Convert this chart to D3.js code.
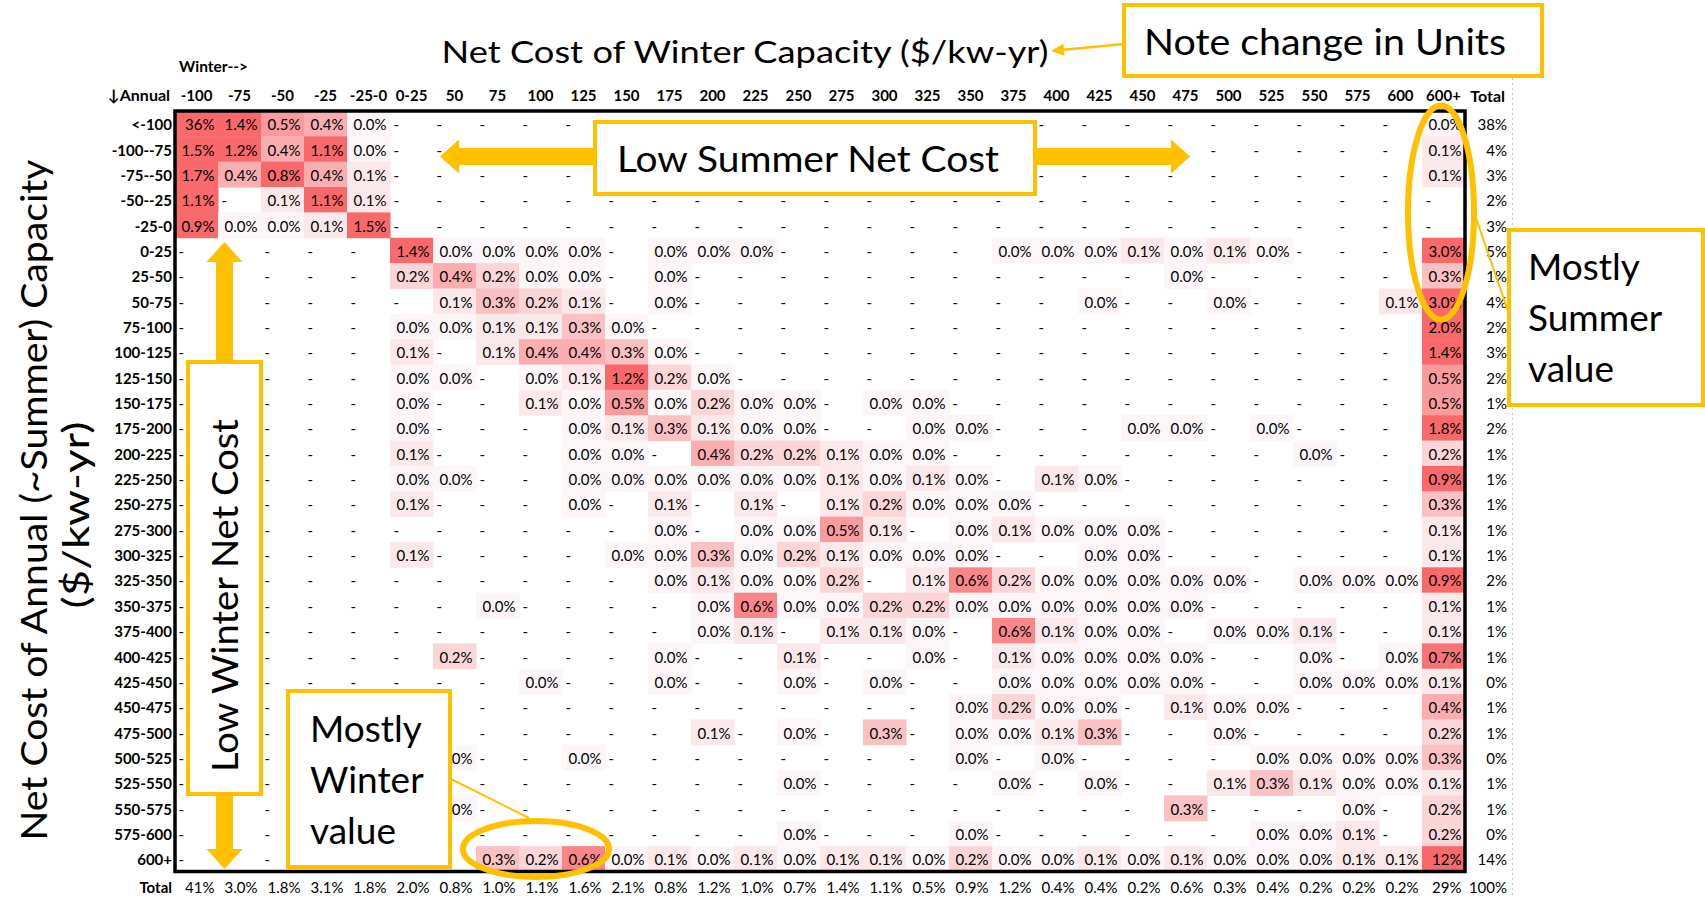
<!DOCTYPE html>
<html>
<head>
<meta charset="utf-8">
<script src="https://cdn.jsdelivr.net/npm/d3@7"></script>
<style>
  body { margin: 0; background: #fff; }
  text { font-family: Lato, "DejaVu Sans", sans-serif; fill: #000; }
</style>
</head>
<body>
<svg id="chart" width="1705" height="898"></svg>
<script>
// ---- data ----
const _ = null; // "-" cell, no hours in that bin

const winterBins = ["-100", "-75", "-50", "-25", "-25-0", "0-25", "50", "75", "100", "125", "150", "175", "200", "225", "250",
  "275", "300", "325", "350", "375", "400", "425", "450", "475", "500", "525", "550", "575", "600", "600+"];

const annualBins = ["<-100", "-100--75", "-75--50", "-50--25", "-25-0", "0-25", "25-50", "50-75", "75-100", "100-125",
  "125-150", "150-175", "175-200", "200-225", "225-250", "250-275", "275-300", "300-325", "325-350", "350-375",
  "375-400", "400-425", "425-450", "450-475", "475-500", "500-525", "525-550", "550-575", "575-600", "600+"];

// share (%) per annual bin (row) x winter bin (column), columns grouped by 5
const share = [
  [36, 1.4, 0.5, 0.4, 0.0,  _, _, _, _, _,  _, _, _, _, _,  _, _, _, _, _,  _, _, _, _, _,  _, _, _, _, 0.0],
  [1.5, 1.2, 0.4, 1.1, 0.0,  _, _, _, _, _,  _, _, _, _, _,  _, _, _, _, _,  _, _, _, _, _,  _, _, _, _, 0.1],
  [1.7, 0.4, 0.8, 0.4, 0.1,  _, _, _, _, _,  _, _, _, _, _,  _, _, _, _, _,  _, _, _, _, _,  _, _, _, _, 0.1],
  [1.1, _, 0.1, 1.1, 0.1,  _, _, _, _, _,  _, _, _, _, _,  _, _, _, _, _,  _, _, _, _, _,  _, _, _, _, _],
  [0.9, 0.0, 0.0, 0.1, 1.5,  _, _, _, _, _,  _, _, _, _, _,  _, _, _, _, _,  _, _, _, _, _,  _, _, _, _, _],
  [_, _, _, _, _,  1.4, 0.0, 0.0, 0.0, 0.0,  _, 0.0, 0.0, 0.0, _,  _, _, _, _, 0.0,  0.0, 0.0, 0.1, 0.0, 0.1,  0.0, _, _, _, 3.0],
  [_, _, _, _, _,  0.2, 0.4, 0.2, 0.0, 0.0,  _, 0.0, _, _, _,  _, _, _, _, _,  _, _, _, 0.0, _,  _, _, _, _, 0.3],
  [_, _, _, _, _,  _, 0.1, 0.3, 0.2, 0.1,  _, 0.0, _, _, _,  _, _, _, _, _,  _, 0.0, _, _, 0.0,  _, _, _, 0.1, 3.0],
  [_, _, _, _, _,  0.0, 0.0, 0.1, 0.1, 0.3,  0.0, _, _, _, _,  _, _, _, _, _,  _, _, _, _, _,  _, _, _, _, 2.0],
  [_, _, _, _, _,  0.1, _, 0.1, 0.4, 0.4,  0.3, 0.0, _, _, _,  _, _, _, _, _,  _, _, _, _, _,  _, _, _, _, 1.4],
  [_, _, _, _, _,  0.0, 0.0, _, 0.0, 0.1,  1.2, 0.2, 0.0, _, _,  _, _, _, _, _,  _, _, _, _, _,  _, _, _, _, 0.5],
  [_, _, _, _, _,  0.0, _, _, 0.1, 0.0,  0.5, 0.0, 0.2, 0.0, 0.0,  _, 0.0, 0.0, _, _,  _, _, _, _, _,  _, _, _, _, 0.5],
  [_, _, _, _, _,  0.0, _, _, _, 0.0,  0.1, 0.3, 0.1, 0.0, 0.0,  _, _, 0.0, 0.0, _,  _, _, 0.0, 0.0, _,  0.0, _, _, _, 1.8],
  [_, _, _, _, _,  0.1, _, _, _, 0.0,  0.0, _, 0.4, 0.2, 0.2,  0.1, 0.0, 0.0, _, _,  _, _, _, _, _,  _, 0.0, _, _, 0.2],
  [_, _, _, _, _,  0.0, 0.0, _, _, 0.0,  0.0, 0.0, 0.0, 0.0, 0.0,  0.1, 0.0, 0.1, 0.0, _,  0.1, 0.0, _, _, _,  _, _, _, _, 0.9],
  [_, _, _, _, _,  0.1, _, _, _, 0.0,  _, 0.1, _, 0.1, _,  0.1, 0.2, 0.0, 0.0, 0.0,  _, _, _, _, _,  _, _, _, _, 0.3],
  [_, _, _, _, _,  _, _, _, _, _,  _, 0.0, _, 0.0, 0.0,  0.5, 0.1, _, 0.0, 0.1,  0.0, 0.0, 0.0, _, _,  _, _, _, _, 0.1],
  [_, _, _, _, _,  0.1, _, _, _, _,  0.0, 0.0, 0.3, 0.0, 0.2,  0.1, 0.0, 0.0, 0.0, _,  _, 0.0, 0.0, _, _,  _, _, _, _, 0.1],
  [_, _, _, _, _,  _, _, _, _, _,  _, 0.0, 0.1, 0.0, 0.0,  0.2, _, 0.1, 0.6, 0.2,  0.0, 0.0, 0.0, 0.0, 0.0,  _, 0.0, 0.0, 0.0, 0.9],
  [_, _, _, _, _,  _, _, 0.0, _, _,  _, _, 0.0, 0.6, 0.0,  0.0, 0.2, 0.2, 0.0, 0.0,  0.0, 0.0, 0.0, 0.0, _,  _, _, _, _, 0.1],
  [_, _, _, _, _,  _, _, _, _, _,  _, _, 0.0, 0.1, _,  0.1, 0.1, 0.0, _, 0.6,  0.1, 0.0, 0.0, _, 0.0,  0.0, 0.1, _, _, 0.1],
  [_, _, _, _, _,  _, 0.2, _, _, _,  _, 0.0, _, _, 0.1,  _, _, 0.0, _, 0.1,  0.0, 0.0, 0.0, 0.0, _,  _, 0.0, _, 0.0, 0.7],
  [_, _, _, _, _,  _, _, _, 0.0, _,  _, 0.0, _, _, 0.0,  _, 0.0, _, _, 0.0,  0.0, 0.0, 0.0, 0.0, _,  _, 0.0, 0.0, 0.0, 0.1],
  [_, _, _, _, _,  _, _, _, _, _,  _, _, _, _, _,  _, _, _, 0.0, 0.2,  0.0, 0.0, _, 0.1, 0.0,  0.0, _, _, _, 0.4],
  [_, _, _, _, _,  _, _, _, _, _,  _, _, 0.1, _, 0.0,  _, 0.3, _, 0.0, 0.0,  0.1, 0.3, _, _, 0.0,  _, _, _, _, 0.2],
  [_, _, _, _, _,  _, 0.0, _, _, 0.0,  _, _, _, _, _,  _, _, _, 0.0, _,  0.0, _, _, _, _,  0.0, 0.0, 0.0, 0.0, 0.3],
  [_, _, _, _, _,  _, _, _, _, _,  _, _, _, _, 0.0,  _, _, _, _, 0.0,  _, 0.0, _, _, 0.1,  0.3, 0.1, 0.0, 0.0, 0.1],
  [_, _, _, _, _,  _, 0.0, _, _, _,  _, _, _, _, _,  _, _, _, _, _,  _, _, _, 0.3, _,  _, _, 0.0, _, 0.2],
  [_, _, _, _, _,  _, _, _, _, _,  _, _, _, _, 0.0,  _, _, _, 0.0, _,  _, _, _, _, _,  0.0, 0.0, 0.1, _, 0.2],
  [_, _, _, _, _,  _, _, 0.3, 0.2, 0.6,  0.0, 0.1, 0.0, 0.1, 0.0,  0.1, 0.1, 0.0, 0.2, 0.0,  0.0, 0.1, 0.0, 0.1, 0.0,  0.0, 0.0, 0.1, 0.1, 12]
];

const rowTotals = [38, 4, 3, 2, 3, 5, 1, 4, 2, 3, 2, 1, 2, 1, 1, 1, 1, 1, 2, 1, 1, 1, 0, 1, 1, 0, 1, 1, 0, 14];
const colTotals = [41, 3.0, 1.8, 3.1, 1.8, 2.0, 0.8, 1.0, 1.1, 1.6, 2.1, 0.8, 1.2, 1.0, 0.7, 1.4, 1.1, 0.5, 0.9, 1.2,
  0.4, 0.4, 0.2, 0.6, 0.3, 0.4, 0.2, 0.2, 0.2, 29];
const grandTotal = 100;

// ---- scales ----
const svg = d3.select('#chart');
const x = d3.scaleBand().domain(winterBins).range([175, 1465]);
const y = d3.scaleBand().domain(annualBins).range([111, 871.5]);
const heat = d3.scaleLinear().domain([0, 0.75]).range(['#fcfcff', '#f8696b']).clamp(true);
const pct = v => v >= 10 ? d3.format('.0f')(v) + '%' : d3.format('.1f')(v) + '%';
const orange = '#ffc000';
const mid = d => y(d) + y.bandwidth() / 2;

// excel page break line, behind everything
svg.append('line')
    .attr('x1', 1512.5).attr('x2', 1512.5).attr('y1', 78).attr('y2', 898)
    .attr('stroke', '#c8c8c8').attr('stroke-dasharray', '2,3');

// ---- cells ----
const cells = share.flatMap((row, i) => row.map((v, j) => ({ row: annualBins[i], col: winterBins[j], v })));

const grid = svg.append('g').attr('font-size', 15);

grid.selectAll('rect')
    .data(cells.filter(d => d.v !== null))
  .join('rect')
    .attr('x', d => x(d.col))
    .attr('y', d => y(d.row))
    .attr('width', x.bandwidth() + 0.5)
    .attr('height', y.bandwidth() + 0.5)
    .attr('fill', d => heat(Math.max(d.v, 0.03))); // "0.0%" cells still carry a trace

grid.selectAll('text')
    .data(cells)
  .join('text')
    .attr('x', d => d.v === null ? x(d.col) + 3.5 : x(d.col) + x.bandwidth() - 3.5)
    .attr('y', d => mid(d.row) + 6.5)
    .attr('text-anchor', d => d.v === null ? 'start' : 'end')
    .text(d => d.v === null ? '-' : pct(d.v));

// ---- labels ----
const labels = svg.append('g').attr('font-size', 15).attr('font-weight', 700);

labels.selectAll('.col-label')
    .data(winterBins)
  .join('text')
    .attr('class', 'col-label')
    .attr('x', d => x(d) + x.bandwidth() / 2)
    .attr('y', 101)
    .attr('text-anchor', 'middle')
    .text(d => d);

labels.selectAll('.row-label')
    .data(annualBins)
  .join('text')
    .attr('class', 'row-label')
    .attr('x', 172)
    .attr('y', d => mid(d) + 6.5)
    .attr('text-anchor', 'end')
    .text(d => d);

labels.append('text').attr('x', 170).attr('y', 101).attr('text-anchor', 'end').attr('font-size', 16).text('↓Annual');
labels.append('text').attr('x', 179).attr('y', 72).attr('font-size', 15.5).text('Winter-->');
labels.append('text').attr('x', 1505).attr('y', 102).attr('text-anchor', 'end').attr('font-size', 16).text('Total');
labels.append('text').attr('x', 172).attr('y', 893).attr('text-anchor', 'end').text('Total');

// totals column and row
const totals = svg.append('g').attr('font-size', 15).attr('text-anchor', 'end');

totals.selectAll('.row-total')
    .data(rowTotals)
  .join('text')
    .attr('class', 'row-total')
    .attr('x', 1507)
    .attr('y', (d, i) => mid(annualBins[i]) + 6.5)
    .text(d => d + '%');

totals.selectAll('.col-total')
    .data(colTotals)
  .join('text')
    .attr('class', 'col-total')
    .attr('x', (d, i) => x(winterBins[i]) + x.bandwidth() - 3.5)
    .attr('y', 893)
    .text(d => pct(d));

totals.append('text').attr('x', 1507).attr('y', 893).text(grandTotal + '%');

// heavy border round the matrix
svg.append('rect')
    .attr('x', x.range()[0]).attr('y', y.range()[0])
    .attr('width', x.range()[1] - x.range()[0]).attr('height', y.range()[1] - y.range()[0])
    .attr('fill', 'none').attr('stroke', '#000').attr('stroke-width', 3.5);

// ---- axis titles ----
svg.append('text')
    .attr('x', 745).attr('y', 63)
    .attr('text-anchor', 'middle').attr('font-size', 31)
    .attr('textLength', 607).attr('lengthAdjust', 'spacingAndGlyphs')
    .text('Net Cost of Winter Capacity ($/kw-yr)');

svg.append('text')
    .attr('transform', 'translate(47,500) rotate(-90)')
    .attr('text-anchor', 'middle').attr('font-size', 36)
    .attr('textLength', 681).attr('lengthAdjust', 'spacingAndGlyphs')
    .text('Net Cost of Annual (~Summer) Capacity');

svg.append('text')
    .attr('transform', 'translate(89,515) rotate(-90)')
    .attr('text-anchor', 'middle').attr('font-size', 36)
    .attr('textLength', 187).attr('lengthAdjust', 'spacingAndGlyphs')
    .text('($/kw-yr)');

// ---- annotations ----
function arrowPoints(x0, y0, x1, y1, shaft, headLen, headHalf) {
  const len = Math.hypot(x1 - x0, y1 - y0);
  const ux = (x1 - x0) / len, uy = (y1 - y0) / len;
  const px = -uy, py = ux;
  const bx = x1 - ux * headLen, by = y1 - uy * headLen;
  const s = shaft / 2;
  return [
    [x0 + px * s, y0 + py * s], [bx + px * s, by + py * s], [bx + px * headHalf, by + py * headHalf],
    [x1, y1],
    [bx - px * headHalf, by - py * headHalf], [bx - px * s, by - py * s], [x0 - px * s, y0 - py * s]
  ];
}

const notes = svg.append('g');

const arrows = [
  [597, 156.5, 440, 156.5, 17, 19, 17],    // low summer, left
  [1033, 156.5, 1190, 156.5, 17, 19, 17],  // low summer, right
  [224.5, 364, 224.5, 242, 17, 20, 18],    // low winter, up
  [224.5, 792, 224.5, 869, 17, 20, 18],    // low winter, down
  [1124, 44, 1051, 51, 2.5, 13, 6]         // to the title
];

notes.selectAll('polygon')
    .data(arrows)
  .join('polygon')
    .attr('points', d => arrowPoints(...d).map(p => p.join(',')).join(' '))
    .attr('fill', orange);

// connectors from ellipses to their boxes
notes.append('line').attr('x1', 451).attr('y1', 779).attr('x2', 529).attr('y2', 818)
    .attr('stroke', orange).attr('stroke-width', 2);
notes.append('line').attr('x1', 1476).attr('y1', 218).attr('x2', 1509).attr('y2', 314)
    .attr('stroke', orange).attr('stroke-width', 2);

notes.append('ellipse').attr('cx', 536).attr('cy', 849).attr('rx', 73).attr('ry', 28)
    .attr('fill', 'none').attr('stroke', orange).attr('stroke-width', 6);
notes.append('ellipse').attr('cx', 1441).attr('cy', 212.5).attr('rx', 33).attr('ry', 107)
    .attr('fill', 'none').attr('stroke', orange).attr('stroke-width', 6);

const boxes = [
  { x: 1124, y: 5, w: 418, h: 71 },    // note change in units
  { x: 595, y: 122, w: 440, h: 72 },   // low summer net cost
  { x: 188, y: 362, w: 73, h: 432 },   // low winter net cost
  { x: 288, y: 691, w: 162, h: 176 },  // mostly winter value
  { x: 1509, y: 230, w: 194, h: 175 }  // mostly summer value
];

notes.selectAll('rect')
    .data(boxes)
  .join('rect')
    .attr('x', d => d.x).attr('y', d => d.y)
    .attr('width', d => d.w).attr('height', d => d.h)
    .attr('fill', '#fff').attr('stroke', orange).attr('stroke-width', 4);

notes.append('text').attr('x', 1144).attr('y', 55).attr('font-size', 37)
    .attr('textLength', 362).attr('lengthAdjust', 'spacingAndGlyphs')
    .text('Note change in Units');

notes.append('text').attr('x', 617).attr('y', 172).attr('font-size', 37)
    .attr('textLength', 382).attr('lengthAdjust', 'spacingAndGlyphs')
    .text('Low Summer Net Cost');

notes.append('text')
    .attr('transform', 'translate(238,595.5) rotate(-90)')
    .attr('text-anchor', 'middle').attr('font-size', 37)
    .attr('textLength', 353).attr('lengthAdjust', 'spacingAndGlyphs')
    .text('Low Winter Net Cost');

const stacked = [
  { x: 310, y: 742, lines: ['Mostly', 'Winter', 'value'] },
  { x: 1528, y: 280, lines: ['Mostly', 'Summer', 'value'] }
];

stacked.forEach(s => {
  notes.append('text')
      .attr('font-size', 37)
    .selectAll('tspan')
      .data(s.lines)
    .join('tspan')
      .attr('x', s.x)
      .attr('y', (d, i) => s.y + i * 51)
      .text(d => d);
});
</script>
</body>
</html>
